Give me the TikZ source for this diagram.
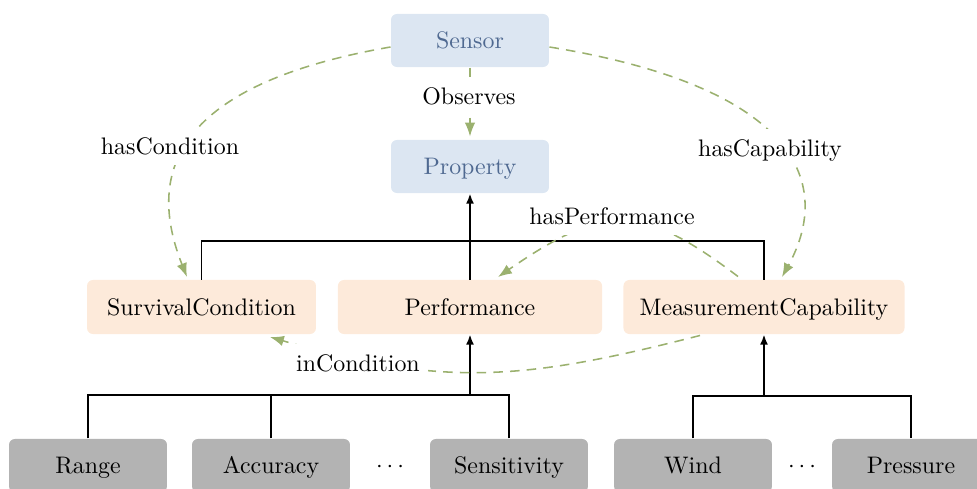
\documentclass[tikz,border=0pt]{standalone}
\usetikzlibrary{arrows.meta,calc}

\definecolor{clsblue}{RGB}{220,230,242}
\definecolor{clstext}{RGB}{79,105,145}
\definecolor{subpeach}{RGB}{253,234,218}
\definecolor{leafgray}{RGB}{179,179,179}
\definecolor{relgreen}{RGB}{155,177,111}

\tikzset{
  box/.style={rounded corners=2.5pt, inner sep=0pt, minimum height=22.2pt,
              text height=1.6ex, text depth=0pt, align=center},
  topbox/.style={box, fill=clsblue, text=clstext, minimum width=66.1pt},
  midbox/.style={box, fill=subpeach, minimum height=22.6pt},
  leafbox/.style={box, fill=leafgray, minimum width=66.1pt},
  isa/.style={line width=0.75pt},
  isaarrow/.style={isa, -{Latex[length=4.2pt,width=3.3pt]}},
  rel/.style={relgreen, dash pattern=on 4pt off 3pt, line width=0.65pt,
              -{Latex[length=5.8pt,width=4.4pt]}},
  rellabel/.style={fill=white, text height=1.6ex, text depth=0pt,
                   inner ysep=4.3pt}
}

\begin{document}
\begin{tikzpicture}[x=0.4184pt, y=-0.4184pt]
  \useasboundingbox (0,0) rectangle (977,489);

  % classes
  \node[topbox] (sensor)   at (470,40.5)  {Sensor};
  \node[topbox] (property) at (470,166.5) {Property};

  \node[midbox, minimum width=95.8pt]  (survival) at (201.5,307) {SurvivalCondition};
  \node[midbox, minimum width=110.5pt] (perf)     at (470,307)   {Performance};
  \node[midbox, minimum width=117.6pt] (meas)     at (764,307)   {MeasurementCapability};

  \node[leafbox] (range) at (88,465.5)  {Range};
  \node[leafbox] (acc)   at (271,465.5) {Accuracy};
  \node          (dotsA) at (390,467)   {$\cdots$};
  \node[leafbox] (sens)  at (509,465.5) {Sensitivity};
  \node[leafbox] (wind)  at (693,465.5) {Wind};
  \node          (dotsB) at (802,467)   {$\cdots$};
  \node[leafbox] (press) at (911,465.5) {Pressure};

  % subclass tree
  \coordinate (jtop)  at (470,241);
  \coordinate (jperf) at (470,395);
  \coordinate (jmeas) at (764,396);

  \draw[isa] (survival.north) |- (jtop) -| (meas.north);
  \draw[isaarrow] (perf.north) -- (property.south);

  \draw[isa] (range.north) |- (jperf);
  \draw[isa] (acc.north)   |- (jperf);
  \draw[isa] (sens.north)  |- (jperf);
  \draw[isaarrow] (jperf) -- (perf.south);

  \draw[isa] (wind.north) |- (jmeas) -| (press.north);
  \draw[isaarrow] (jmeas) -- (meas.south);

  % object properties
  \draw[rel] (sensor.south) -- ($(property.north)+(0,-3)$);
  \draw[rel] ($(sensor.west)+(0,6.5)$)
      .. controls (166,86) and (148,179) .. ($(survival.north)+(-14.5,-2.5)$);
  \draw[rel] ($(sensor.east)+(0,6.5)$)
      .. controls (790,86) and (836,179) .. ($(meas.north)+(18,-2.5)$);
  \draw[rel] ($(meas.north)+(-26,-3)$)
      .. controls (641,203) and (604,204) .. ($(perf.north)+(28,-2.5)$);
  \draw[rel] ($(meas.south)+(-64,1)$)
      .. controls (526,380) and (444,388) .. ($(survival.south)+(68.5,2.5)$);

  % property labels
  \node[rellabel] (lobs)  at (469,96)  {Observes};
  \node[rellabel] (lcond) at (170,146) {hasCondition};
  \node[rellabel] (lcap)  at (770,148) {hasCapability};
  \node[rellabel] (lperf) at (612,216) {hasPerformance};
  \node[rellabel] (lin)   at (358,363) {inCondition};
\end{tikzpicture}
\end{document}
